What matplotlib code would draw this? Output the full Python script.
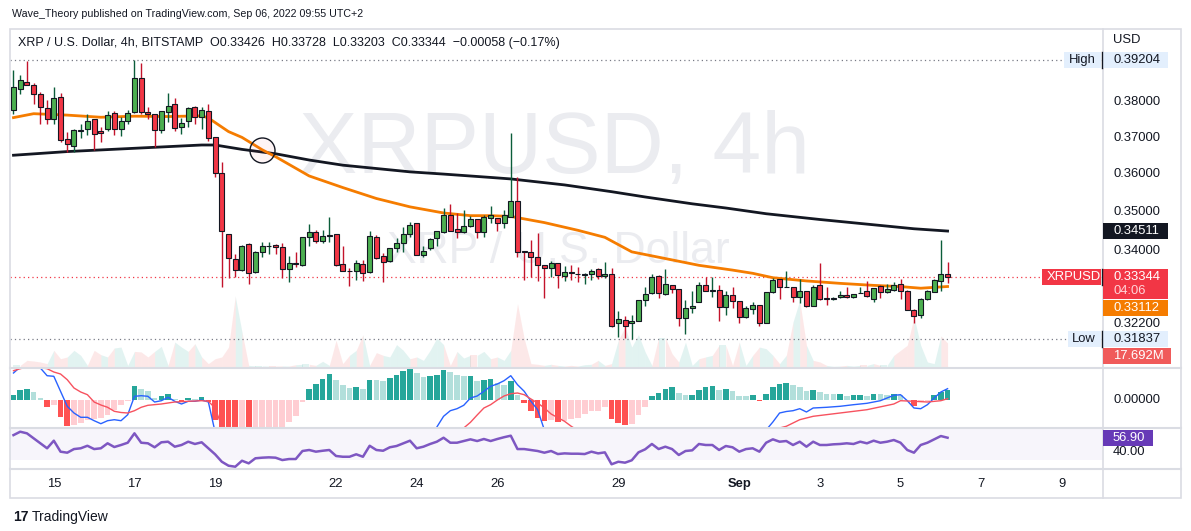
import numpy as np
import matplotlib.pyplot as plt
from matplotlib.patches import Rectangle
from matplotlib.ticker import NullLocator

plt.rcParams['font.family'] = ['Liberation Sans', 'DejaVu Sans']

# XRP / U.S. Dollar, BITSTAMP, 4h candles, Aug 14 2022 00:00 .. Sep 6 2022 (index 0 = first candle)
opens = [0.3777, 0.3837, 0.3857, 0.3848, 0.3822, 0.3782, 0.3752, 0.3814, 0.3696, 0.3677,
         0.3720, 0.3724, 0.3752, 0.3718, 0.3724, 0.3768, 0.3724, 0.3746, 0.3771, 0.3868,
         0.3771, 0.3766, 0.3721, 0.3771, 0.3794, 0.3729, 0.3746, 0.3785, 0.3757, 0.3774,
         0.3701, 0.3603, 0.3443, 0.3379, 0.3352, 0.3417, 0.3347, 0.3398, 0.3413, 0.3415,
         0.3411, 0.3354, 0.3369, 0.3364, 0.3435, 0.3448, 0.3425, 0.3438, 0.3443, 0.3367,
         0.3351, 0.3351, 0.3367, 0.3347, 0.3437, 0.3388, 0.3374, 0.3407, 0.3420, 0.3444,
         0.3471, 0.3389, 0.3407, 0.3433, 0.3448, 0.3493, 0.3456, 0.3448, 0.3464, 0.3482,
         0.3448, 0.3484, 0.3484, 0.3471, 0.3488, 0.3530, 0.3400, 0.3398, 0.3384, 0.3364,
         0.3357, 0.3369, 0.3338, 0.3347, 0.3343, 0.3341, 0.3342, 0.3354, 0.3338, 0.3343,
         0.3222, 0.3230, 0.3222, 0.3227, 0.3277, 0.3294, 0.3338, 0.3292, 0.3315, 0.3304,
         0.3234, 0.3258, 0.3273, 0.3315, 0.3301, 0.3302, 0.3261, 0.3290, 0.3275, 0.3236,
         0.3256, 0.3265, 0.3223, 0.3297, 0.3330, 0.3310, 0.3309, 0.3285, 0.3299, 0.3264,
         0.3314, 0.3282, 0.3281, 0.3285, 0.3291, 0.3285, 0.3295, 0.3300, 0.3281, 0.3312,
         0.3298, 0.3302, 0.3317, 0.3301, 0.3254, 0.3242, 0.3280, 0.3298, 0.3326, 0.33426]
highs = [0.3892, 0.3878, 0.3918, 0.3854, 0.3829, 0.3806, 0.3842, 0.3825, 0.3715, 0.3725,
         0.3739, 0.3766, 0.3753, 0.3730, 0.3775, 0.3775, 0.3757, 0.3778, 0.39204, 0.3912,
         0.3785, 0.3767, 0.3775, 0.3826, 0.3810, 0.3754, 0.3785, 0.3790, 0.3785, 0.3794,
         0.3702, 0.3634, 0.3444, 0.3392, 0.3415, 0.3421, 0.3399, 0.3424, 0.3424, 0.3418,
         0.3421, 0.3388, 0.3397, 0.3436, 0.3469, 0.3454, 0.3454, 0.3487, 0.3444, 0.3414,
         0.3357, 0.3378, 0.3378, 0.3450, 0.3441, 0.3394, 0.3408, 0.3433, 0.3462, 0.3475,
         0.3472, 0.3413, 0.3434, 0.3452, 0.3510, 0.3521, 0.3497, 0.3506, 0.3490, 0.3483,
         0.3493, 0.3516, 0.3485, 0.3506, 0.3713, 0.3594, 0.3401, 0.3428, 0.3447, 0.3365,
         0.3376, 0.3370, 0.3363, 0.3365, 0.3359, 0.3346, 0.3354, 0.3357, 0.3372, 0.3357,
         0.3252, 0.3238, 0.3241, 0.3279, 0.3311, 0.3342, 0.3340, 0.3355, 0.3316, 0.3305,
         0.3278, 0.3300, 0.3323, 0.3334, 0.3334, 0.3315, 0.3300, 0.3309, 0.3276, 0.3264,
         0.3273, 0.3266, 0.3298, 0.3332, 0.3331, 0.3351, 0.3310, 0.3330, 0.3300, 0.3314,
         0.3369, 0.3309, 0.3286, 0.3301, 0.3310, 0.3293, 0.3309, 0.3325, 0.3308, 0.3314,
         0.3317, 0.3322, 0.3330, 0.3302, 0.3255, 0.3284, 0.3303, 0.3330, 0.3428, 0.33728]
lows = [0.3766, 0.3824, 0.3848, 0.3795, 0.3739, 0.3739, 0.3739, 0.3688, 0.3661, 0.3662,
        0.3698, 0.3708, 0.3665, 0.3687, 0.3718, 0.3708, 0.3706, 0.3738, 0.3769, 0.3766,
        0.3752, 0.3675, 0.3713, 0.3743, 0.3720, 0.3711, 0.3731, 0.3739, 0.3725, 0.3690,
        0.3594, 0.3309, 0.3333, 0.3334, 0.3349, 0.3317, 0.3346, 0.3386, 0.3392, 0.3392,
        0.3332, 0.3323, 0.3361, 0.3363, 0.3414, 0.3420, 0.3420, 0.3424, 0.3363, 0.3350,
        0.3313, 0.3328, 0.3325, 0.3346, 0.3381, 0.3323, 0.3373, 0.3397, 0.3397, 0.3437,
        0.3389, 0.3386, 0.3402, 0.3414, 0.3447, 0.3450, 0.3433, 0.3447, 0.3462, 0.3433,
        0.3435, 0.3473, 0.3452, 0.3458, 0.3487, 0.3386, 0.3327, 0.3336, 0.3326, 0.3284,
        0.3336, 0.3308, 0.3325, 0.3328, 0.3323, 0.3317, 0.3328, 0.3329, 0.3333, 0.3213,
        0.3188, 0.3187, 0.31837, 0.3226, 0.3264, 0.3293, 0.3282, 0.3290, 0.3296, 0.3215,
        0.3195, 0.3246, 0.3272, 0.3300, 0.3286, 0.3228, 0.3241, 0.3258, 0.3223, 0.3235,
        0.3243, 0.3214, 0.3222, 0.3294, 0.3280, 0.3309, 0.3272, 0.3270, 0.3262, 0.3263,
        0.3277, 0.3265, 0.3278, 0.3282, 0.3282, 0.3282, 0.3294, 0.3286, 0.3274, 0.3284,
        0.3296, 0.3301, 0.3281, 0.3253, 0.3222, 0.3234, 0.3279, 0.3297, 0.3301, 0.33203]
closes = [0.3842, 0.3862, 0.3848, 0.3822, 0.3785, 0.3752, 0.3811, 0.3693, 0.3682, 0.3721,
          0.3722, 0.3746, 0.3710, 0.3714, 0.3763, 0.3724, 0.3746, 0.3768, 0.3868, 0.3771,
          0.3766, 0.3721, 0.3774, 0.3788, 0.3727, 0.3741, 0.3782, 0.3757, 0.3777, 0.3699,
          0.3603, 0.3451, 0.3382, 0.3352, 0.3412, 0.3344, 0.3398, 0.3413, 0.3414, 0.3410,
          0.3354, 0.3369, 0.3367, 0.3435, 0.3448, 0.3425, 0.3438, 0.3442, 0.3364, 0.3351,
          0.3350, 0.3369, 0.3344, 0.3439, 0.3382, 0.3372, 0.3407, 0.3420, 0.3443, 0.3467,
          0.3390, 0.3400, 0.3430, 0.3451, 0.3494, 0.3451, 0.3448, 0.3464, 0.3483, 0.3448,
          0.3488, 0.3492, 0.3471, 0.3492, 0.3530, 0.3398, 0.3398, 0.3384, 0.3364, 0.3357,
          0.3369, 0.3339, 0.3347, 0.3346, 0.3342, 0.3342, 0.3350, 0.3338, 0.3343, 0.3214,
          0.3231, 0.3216, 0.3227, 0.3278, 0.3292, 0.3336, 0.3294, 0.3318, 0.3304, 0.3234,
          0.3258, 0.3264, 0.3315, 0.3301, 0.3302, 0.3261, 0.3290, 0.3275, 0.3236, 0.3259,
          0.3265, 0.3223, 0.3297, 0.3328, 0.3309, 0.3311, 0.3285, 0.3299, 0.3264, 0.3309,
          0.3280, 0.3281, 0.3282, 0.3290, 0.3285, 0.3292, 0.3296, 0.3288, 0.3307, 0.3297,
          0.3304, 0.3314, 0.3300, 0.3254, 0.3239, 0.3280, 0.3301, 0.3328, 0.3342, 0.33344]

# volume, millions of XRP
volume_m = [1.2, 1.2, 4.9, 4.4, 3.7, 2.5, 12.3, 6.1, 7.4, 12.3,
            8.6, 1.2, 12.3, 9.1, 7.4, 14.0, 14.7, 1.2, 11.5, 11.1,
            7.4, 11.5, 15.2, 1.2, 18.4, 14.7, 11.5, 17.2, 7.4, 2.5,
            6.1, 7.4, 14.7, 52.3, 25.8, 1.2, 0.8, 0.8, 0.7, 0.7,
            0.8, 0.7, 1.7, 2.0, 2.0, 1.2, 4.2, 1.2, 19.7, 2.5,
            8.6, 12.3, 23.8, 1.2, 10.6, 8.6, 7.4, 16.5, 12.3, 6.1,
            7.4, 4.9, 12.3, 21.4, 16.5, 1.2, 11.5, 6.6, 8.6, 8.6,
            11.5, 6.1, 7.4, 4.9, 12.3, 46.7, 20.9, 2.5, 2.0, 1.2,
            2.0, 1.2, 0.7, 1.2, 0.7, 1.7, 2.0, 4.9, 1.2, 2.5,
            19.7, 29.5, 14.7, 23.8, 11.1, 1.2, 21.6, 21.6, 9.8, 3.7,
            18.4, 1.2, 6.1, 7.4, 8.6, 16.0, 16.0, 1.2, 18.4, 1.2,
            8.6, 14.7, 13.5, 8.6, 2.5, 8.6, 33.2, 49.1, 16.0, 4.9,
            3.7, 1.2, 0.5, 0.7, 1.2, 0.7, 1.2, 1.2, 2.5, 1.2,
            1.2, 8.6, 12.3, 16.0, 36.9, 16.0, 3.7, 2.5, 22.9, 17.692]

# moving averages (orange = fast, black = 200), read at candle indices
ema_idx = [0, 3, 8, 13, 18, 23, 28, 29, 32, 34, 37, 39, 44, 49, 54, 59, 64, 68, 71, 74,
           79, 84, 88, 92, 97, 102, 107, 110, 113, 118, 123, 128, 132, 135, 139]
ema_val = [0.3756, 0.3767, 0.3763, 0.3757, 0.3760, 0.3759, 0.3761, 0.3755, 0.3717, 0.3701,
           0.3667, 0.3648, 0.3596, 0.3565, 0.3536, 0.3514, 0.3498, 0.3491, 0.3491, 0.3489,
           0.3473, 0.3453, 0.3435, 0.3398, 0.3381, 0.3364, 0.3352, 0.3344, 0.3333, 0.3325,
           0.3319, 0.3314, 0.3311, 0.3307, 0.33112]
sma_idx = [0, 8, 18, 28, 30, 34, 39, 44, 49, 54, 59, 64, 71, 74, 82, 89, 94, 101, 106,
           112, 120, 127, 134, 139]
sma_val = [0.3652, 0.3662, 0.3671, 0.3680, 0.3680, 0.3668, 0.3656, 0.3639, 0.3625, 0.3616,
           0.3607, 0.3601, 0.3592, 0.3588, 0.3572, 0.3554, 0.3540, 0.3522, 0.3511, 0.3496,
           0.3481, 0.3469, 0.3457, 0.34511]

# MACD, in units of 1e-4 USD
macd_hist = [5.3, 10.3, 11.3, 8.3, 2.3, -7.3, -5.3, -17.3, -26.3, -25.3,
             -23.3, -19.7, -19.3, -18.0, -15.3, -10.0, -5.3, -0.7, 14.3, 11.0,
             9.3, 2.0, 4.3, 6.3, 1.0, -2.3, 2.0, 1.0, 3.3, -2.0,
             -20.0, -35.0, -42.0, -48.0, -46.0, -49.0, -45.0, -40.0, -35.0, -31.0,
             -28.0, -21.7, -16.0, -1.7, 10.7, 16.3, 21.3, 26.3, 20.3, 15.3,
             12.3, 13.3, 11.3, 20.3, 20.0, 19.3, 22.3, 25.3, 29.3, 31.3,
             27.3, 23.3, 24.3, 25.3, 30.3, 28.3, 25.3, 24.0, 24.3, 19.3,
             20.3, 20.8, 17.0, 15.5, 19.3, 5.3, -3.3, -11.3, -18.0, -20.7,
             -20.3, -22.3, -20.7, -19.0, -18.0, -13.7, -11.3, -10.7, -7.3, -19.0,
             -23.0, -25.3, -24.0, -14.7, -7.3, 4.3, 7.3, 11.3, 13.3, 6.7,
             4.7, 5.0, 10.3, 13.3, 14.0, 10.3, 11.3, 9.3, 4.3, 3.7,
             4.7, -0.7, 6.3, 13.3, 16.0, 17.3, 14.7, 13.3, 8.7, 10.0,
             7.7, 6.3, 5.7, 6.0, 4.3, 5.3, 5.5, 4.3, 6.3, 5.7,
             5.3, 6.3, 4.7, 0.3, -6.3, -2.0, -1.3, 4.7, 8.3, 10.3]
macd_idx = [0, 1, 2, 3, 4, 5, 6, 7, 8, 9, 10, 11, 12, 13, 14, 15, 16, 17, 18, 19, 20, 21, 22,
            23, 24, 25, 26, 27, 28, 29, 30, 31, 33, 35, 38, 41, 44, 50, 56, 60, 62, 63, 64, 65,
            66, 67, 68, 69, 70, 71, 72, 73, 74, 75, 76, 77, 78, 79, 81, 83, 86, 89, 91, 93, 96,
            100, 104, 108, 111, 112, 113, 114, 115, 116, 117, 118, 119, 121, 123, 125, 127,
            129, 131, 132, 133, 134, 135, 136, 137, 138, 139]
macd_val = [27, 33, 38, 37, 32, 24.3, 23.7, 8.7, -6.3, -13, -17.3, -17.3, -20.7, -23.7,
            -20.7, -19.7, -20.7, -14.7, 3.7, 4.3, 3.7, -2, -0.7, 2.7, -1.3, -4, -1.3, -1.3,
            0, -2, -32, -50, -95, -125, -150, -160, -150, -115, -80, -53, -38, -27, -16.3,
            -10.7, -8.7, -5.3, 2, 4, 8.7, 13.7, 16, 19.3, 24.3, 15.3, 8.7, -1.3, -9.7, -30,
            -38, -45, -50, -60, -68, -66, -60, -55, -48, -40, -34, -30, -22, -13, -11.5,
            -10.7, -8.7, -12, -8, -7.3, -6.3, -4.7, -3.3, -0.7, 4.7, 5.3, -0.7, -8, -8.7,
            -4.7, 2, 8, 11.3]
sig_idx = [0, 1, 2, 3, 4, 5, 6, 7, 8, 9, 10, 11, 12, 13, 14, 15, 16, 17, 18, 19, 20, 22, 24,
           26, 28, 29, 30, 31, 33, 35, 38, 41, 44, 50, 56, 60, 62, 63, 64, 65, 66, 67, 68, 69,
           70, 71, 72, 73, 74, 75, 76, 77, 78, 79, 80, 82, 83, 86, 89, 91, 93, 96, 100, 104,
           108, 111, 113, 114, 115, 117, 119, 123, 127, 131, 132, 134, 136, 138, 139]
sig_val = [29.3, 31.3, 33, 33, 32.5, 31.3, 28, 26, 20.3, 12, 8, 5.3, -2, -5, -7.3, -11.3,
           -12.5, -13, -10.7, -7.3, -5.3, -4, -2, -1.3, -0.7, -1.3, -8, -26.3, -47, -76,
           -115, -138, -161, -127, -102, -80, -62, -52, -46.6, -39, -34, -28, -22.3, -15,
           -8, -4.7, 0, 4, 6.3, 7, 5.3, 1, -3, -8, -14, -21.3, -26.3, -39, -45, -43, -51,
           -67, -60, -62, -44, -33, -31, -28, -26.3, -19.7, -16.3, -13, -9.7, -4, -0.7,
           -1.3, -2, -0.7, 1.3]

rsi = [60, 64, 62.1, 56.2, 50.3, 44.4, 53.4, 40.4, 39.2, 43.5,
       44.4, 47.4, 43.5, 44.4, 50.3, 45.9, 48.3, 51, 62.1, 51,
       50.3, 45.6, 51.5, 52.2, 46.3, 48.3, 52.2, 49.5, 51.5, 44.4,
       37.3, 28.5, 23.8, 22.6, 29.7, 26.6, 32.6, 33.3, 33.7, 33.3,
       30.5, 31.7, 31.7, 41.2, 42.4, 40.4, 41.5, 42.4, 35.3, 34.4,
       34.4, 37.3, 34.4, 47.4, 42.4, 41.5, 45.6, 47.1, 50.3, 53.4,
       44.4, 46.3, 49.5, 52.2, 56.9, 51, 51, 53, 55, 53,
       55.4, 53, 55.4, 57.5, 59.3, 43.5, 43.5, 42.4, 41.2, 39.2,
       41.2, 37.6, 38.4, 38, 38, 37.6, 40.4, 38.4, 39.6, 25.5,
       28.5, 27.4, 30.2, 39.6, 43.2, 49.5, 43.5, 46.3, 43.5, 36.5,
       41.2, 42, 49.5, 48.3, 48.3, 42.4, 47.1, 45.6, 40.4, 43.5,
       44.4, 40.4, 51, 55, 52.2, 53, 48.3, 52.2, 46.3, 52.2,
       48.3, 48.3, 49.1, 49.5, 50.3, 49.5, 52.2, 50.3, 53.4, 51,
       52.2, 54.2, 51, 42.4, 39.2, 48.3, 51, 55, 58.9, 56.90]

period_high = 0.39204
period_low = 0.31837
cross_idx, cross_price = 37, 0.3667  # circled MA crossover
price_ticks = [0.38, 0.37, 0.36, 0.35, 0.34, 0.322]
day_offsets = [1, 3, 5, 8, 10, 12, 15, 18, 20, 22, 24, 26]  # days after Aug 14
day_labels = ['15', '17', '19', '22', '24', '26', '29', 'Sep', '3', '5', '7', '9']
candles_per_day = 6

TEXT = '#131722'
GREEN, RED = '#4caf50', '#f23645'
TEAL, PINK = '#26a69a', '#ef5350'
FS = 9.4  # scale label size

o, h, l, c = (np.array(v) for v in (opens, highs, lows, closes))
n = len(c)
x = np.arange(n)
up = c >= o

W, H = 1191, 531
fig = plt.figure(figsize=(W / 100, H / 100), dpi=100)


def pane(x0, y0, x1, y1):
    return fig.add_axes([x0 / W, 1 - y1 / H, (x1 - x0) / W, (y1 - y0) / H])


vol_ax = pane(10, 29, 1102, 367)
ax = pane(10, 29, 1102, 367)
macd_ax = pane(10, 369, 1102, 427)
rsi_ax = pane(10, 428, 1102, 468)
ax.patch.set_alpha(0)
ax.set_yscale('log')
ax.set_ylim(0.311817, 0.401276)
vol_ax.set_ylim(0, 249)
macd_ax.set_ylim(-27, 31)
rsi_ax.set_ylim(21.1, 68.4)
for a in (vol_ax, ax, macd_ax, rsi_ax):
    a.set_xlim(-0.52, 161.98)
    a.xaxis.set_major_locator(NullLocator())
    a.yaxis.set_major_locator(NullLocator())
    a.yaxis.set_minor_locator(NullLocator())
    for s in a.spines.values():
        s.set_visible(False)

# watermark + volume (behind the candles)
vol_ax.text(0.499, 0.642, 'XRPUSD, 4h', transform=vol_ax.transAxes, ha='center', va='center',
            fontsize=63, color='#ebecf0')
vol_ax.text(0.502, 0.343, 'XRP / U.S. Dollar', transform=vol_ax.transAxes, ha='center',
            va='center', fontsize=32, color='#ebecf0')
vol = np.array(volume_m)
for i in range(1, n):
    vol_ax.fill_between([i - 1, i], [vol[i - 1], vol[i]], 0,
                        color=TEAL if up[i] else PINK, alpha=0.13, lw=0)

# price pane
ax.axhline(period_high, color='#787b86', lw=0.9, ls=(0, (1, 2.5)), zorder=1)
ax.axhline(period_low, color='#787b86', lw=0.9, ls=(0, (1, 2.5)), zorder=1)
ax.axhline(c[-1], color=RED, lw=0.9, ls=(0, (1, 2.5)), zorder=1)
ax.plot(sma_idx, sma_val, color=TEXT, lw=2, zorder=2)
ax.plot(ema_idx, ema_val, color='#f57c00', lw=2, zorder=2)
ax.vlines(x, l, h, colors=np.where(up, '#0b5d3a', '#c3132b'), lw=1, zorder=3)
body_lo = np.minimum(o, c)
body_hi = np.maximum(o, c)
ax.bar(x, np.maximum(body_hi - body_lo, 0.00005), bottom=body_lo, width=0.74,
       color=np.where(up, GREEN, RED), edgecolor=TEXT, linewidth=0.8, zorder=4)
ax.plot([cross_idx], [cross_price], 'o', ms=18, mfc=(0.95, 0.21, 0.27, 0.05), mec=TEXT,
        mew=1.0, zorder=5)

# MACD pane
hist = np.array(macd_hist)
prev = np.concatenate([[hist[0]], hist[:-1]])
hist_col = np.where(hist >= 0, np.where(hist >= prev, TEAL, '#b2dfdb'),
                    np.where(hist < prev, '#ff5252', '#ffcdd2'))
macd_ax.bar(x, hist, width=0.84, color=hist_col, zorder=2)
macd_ax.plot(macd_idx, macd_val, color='#2962ff', lw=1, zorder=3)
macd_ax.plot(sig_idx, sig_val, color='#f7525f', lw=1, zorder=3)

# RSI pane
rsi_ax.axhspan(30, 70, color='#7e57c2', alpha=0.06, lw=0)
rsi_ax.plot(x, rsi, color='#7e57c2', lw=1.8)

# overlay in pixel coordinates for frame, scales and labels
ov = fig.add_axes([0, 0, 1, 1])
ov.set_xlim(0, W)
ov.set_ylim(H, 0)
ov.axis('off')
ov.patch.set_visible(False)


def px(a, xv, yv):
    X, Y = a.transData.transform((xv, yv))
    return X, H - Y


def tag(yc, text, fc, tc, x0=1103, x1=1168, hgt=16, tx=None):
    ov.add_patch(Rectangle((x0, yc - hgt / 2), x1 - x0, hgt, fc=fc, ec='none', zorder=5))
    ov.text(x0 + 10 if tx is None else tx, yc, text, color=tc, fontsize=FS, va='center',
            ha='left', zorder=6)


line_c = '#dadce3'
ov.add_patch(Rectangle((9.5, 28.5), 1171, 469, fill=False, ec=line_c, lw=1.2))
ov.plot([1103, 1103], [28.5, 497.5], color=line_c, lw=1.2)
for yy in (368, 427.5, 468.5):
    ov.plot([9.5, 1180.5], [yy, yy], color=line_c, lw=1.5)

ov.text(12, 14, 'Wave_Theory published on TradingView.com, Sep 06, 2022 09:55 UTC+2',
        fontsize=7.7, color=TEXT, va='center')
legend = ('XRP / U.S. Dollar, 4h, BITSTAMP  O%.5f  H%.5f  L%.5f  C%.5f  \u22120.00058 (\u22120.17%%)'
          % (o[-1], h[-1], l[-1], c[-1]))
ov.text(18, 43, legend, fontsize=9.0, color=TEXT, va='center')
ov.text(1113, 40, 'USD', fontsize=FS, color=TEXT, va='center')

for v in price_ticks:
    ov.text(1113, px(ax, 0, v)[1], '%.5f' % v, fontsize=FS, color=TEXT, va='center')

y_hi = px(ax, 0, period_high)[1]
tag(y_hi, '%.5f' % period_high, '#e3effd', TEXT)
tag(y_hi, 'High', '#e3effd', TEXT, x0=1064, x1=1101, tx=1069)
y_lo = px(ax, 0, period_low)[1]
tag(y_lo, '%.5f' % period_low, '#e3effd', TEXT)
tag(y_lo, 'Low', '#e3effd', TEXT, x0=1068, x1=1101, tx=1072)
tag(px(ax, 0, sma_val[-1])[1], '%.5f' % sma_val[-1], TEXT, 'white')

y_c = px(ax, 0, c[-1])[1]
ov.add_patch(Rectangle((1103, y_c - 8), 65, 30, fc=RED, ec='none', zorder=5))
ov.text(1113, y_c, '%.5f' % c[-1], color='white', fontsize=FS, va='center', zorder=6)
ov.text(1113, y_c + 14, '04:06', color='#ffd3d7', fontsize=FS, va='center', zorder=6)
tag(y_c, 'XRPUSD', RED, 'white', x0=1042, x1=1101, tx=1047)
tag(y_c + 31, '%.5f' % ema_val[-1], '#f57c00', 'white')
tag(y_lo + 17, '%.3fM' % vol[-1], '#f05a5a', 'white', x1=1171)
for yy in (y_hi, y_lo, y_c):
    ov.plot([1102, 1102], [yy - 8, yy + 8], color=TEXT, lw=1, zorder=7)

ov.text(1113, px(macd_ax, 0, 0)[1], '0.00000', fontsize=FS, color=TEXT, va='center')
tag(px(rsi_ax, 0, rsi[-1])[1], '%.2f' % rsi[-1], '#673ab7', 'white', x1=1153)
ov.text(1113, px(rsi_ax, 0, 40)[1], '40.00', fontsize=FS, color=TEXT, va='center')

for d, lab in zip(day_offsets, day_labels):
    xp = px(rsi_ax, d * candles_per_day, 0)[0]
    ov.text(xp, 484, lab, ha='center', va='center', fontsize=FS, color=TEXT,
            fontweight='bold' if lab == 'Sep' else 'normal')

ov.text(13, 517, '17', fontsize=10, fontweight='bold', color=TEXT, va='center')
ov.text(32, 517, 'TradingView', fontsize=10, color=TEXT, va='center')

fig.savefig('out.png', dpi=100)
